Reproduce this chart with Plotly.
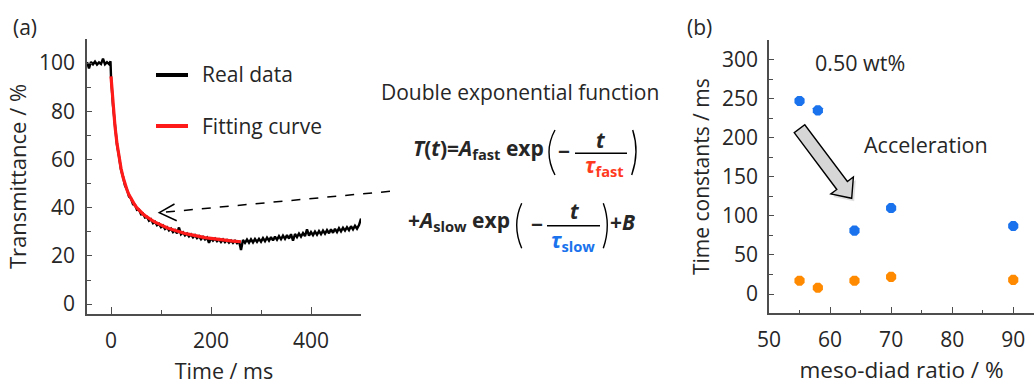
import plotly.graph_objects as go

W, H = 1034, 385
FONT = "Open Sans"
TXT = "#262626"
AX = "#4d4d4d"

# ---------------- data: panel (a) ----------------
t_pre = [-48, -44, -40, -36, -32, -28, -24, -20, -16, -12, -8, -4, -1]
real_pre = [100.4, 97.8, 100.5, 99.5, 100.6, 99.4, 100.3, 99.6, 101.8, 99.5, 100.4, 99.6, 100.7]

t_main = list(range(0, 504, 4))
real_main = [
    94.5, 82.5, 74.2, 66.1, 61.3, 55.8, 52.9, 49.2, 47.6, 44.6,
    43.9, 41.4, 41.2, 39.1, 39.2, 37.3, 37.6, 35.9, 36.2, 34.6,
    35.2, 33.6, 34.2, 32.7, 33.3, 31.9, 32.6, 31.2, 31.9, 30.6,
    31.3, 29.9, 30.7, 29.4, 31.8, 29.0, 29.8, 28.5, 29.3, 28.1,
    28.9, 27.7, 28.6, 27.4, 28.2, 26.9, 27.9, 26.8, 27.6, 25.4,
    27.4, 26.3, 27.2, 26.1, 26.9, 25.8, 26.8, 25.7, 26.6, 25.5,
    26.4, 25.4, 26.3, 25.3, 26.2, 22.5,
    26.6, 25.4, 26.8, 25.5, 26.9, 25.6, 27.0, 25.8, 27.1, 25.9,
    27.4, 26.1, 27.6, 26.3, 27.8, 26.4, 28.0, 26.7, 28.2, 26.9,
    28.4, 27.1, 28.6, 27.2, 29.0, 26.3, 29.1, 27.8, 29.3, 28.0,
    29.5, 28.2, 31.0, 28.4, 29.9, 28.6, 30.1, 28.8, 30.3, 29.0,
    30.5, 29.2, 30.7, 29.4, 31.0, 29.6, 31.2, 29.9, 31.5, 30.2,
    31.7, 30.5, 31.9, 30.7, 32.3, 31.0, 32.5, 31.3, 32.8, 35.5,
]
assert len(real_main) == len(t_main)

t_fit = list(range(0, 264, 4))
fit_vals = [
    94.5, 82.88, 73.77, 66.60, 60.92, 56.38, 52.73, 49.77, 47.35, 45.34,
    43.66, 42.23, 41.00, 39.93, 38.99, 38.16, 37.41, 36.73, 36.10, 35.53,
    34.99, 34.50, 34.03, 33.59, 33.18, 32.79, 32.41, 32.06, 31.72, 31.40,
    31.10, 30.81, 30.53, 30.27, 30.02, 29.78, 29.55, 29.33, 29.12, 28.92,
    28.73, 28.54, 28.37, 28.20, 28.04, 27.88, 27.74, 27.60, 27.46, 27.33,
    27.21, 27.09, 26.98, 26.87, 26.77, 26.67, 26.58, 26.49, 26.40, 26.32,
    26.24, 26.16, 26.09, 26.02, 25.95, 25.89,
]
assert len(fit_vals) == len(t_fit)

# ---------------- data: panel (b) ----------------
meso = [55, 58, 64, 70, 90]
tau_slow = [247, 235, 81, 110, 87]
tau_fast = [17, 8, 17, 22, 18]

BLUE = "#1a73ec"
ORANGE = "#ff8a00"
RED = "#ff1a1a"
FS = 21


def px(x):
    return x / W


def py(y):
    return 1 - y / H


fig = go.Figure()
fig.add_trace(go.Scatter(x=t_pre + t_main, y=real_pre + real_main, mode="lines",
                         line=dict(color="black", width=2.4), name="Real data",
                         showlegend=False, xaxis="x", yaxis="y"))
fig.add_trace(go.Scatter(x=t_fit, y=fit_vals, mode="lines", line=dict(color=RED, width=3.2),
                         name="Fitting curve", showlegend=False, xaxis="x", yaxis="y"))
fig.add_trace(go.Scatter(x=meso, y=tau_slow, mode="markers",
                         marker=dict(color=BLUE, size=11, symbol="octagon"),
                         name="τslow", showlegend=False, xaxis="x2", yaxis="y2"))
fig.add_trace(go.Scatter(x=meso, y=tau_fast, mode="markers",
                         marker=dict(color=ORANGE, size=11, symbol="octagon"),
                         name="τfast", showlegend=False, xaxis="x2", yaxis="y2"))

axcommon = dict(showline=True, linecolor=AX, linewidth=1.5, ticks="inside", tickcolor=AX,
                tickwidth=1.3, showgrid=False, zeroline=False, automargin=False,
                tickfont=dict(family=FONT, size=FS, color=TXT))

fig.update_layout(
    width=W, height=H, autosize=False,
    margin=dict(l=0, r=0, t=0, b=0),
    paper_bgcolor="white", plot_bgcolor="white",
    font=dict(family=FONT, color=TXT),
    xaxis=dict(domain=[px(87), px(361)], range=[-48, 500], dtick=200, tick0=0, ticklen=7,
               minor=dict(dtick=100, ticklen=4, ticks="inside", tickcolor=AX, tickwidth=1.3),
               ticklabelstandoff=7,
               title=dict(text="Time / ms", font=dict(family=FONT, size=21.5, color=TXT), standoff=16),
               anchor="y", **axcommon),
    yaxis=dict(domain=[py(314), py(39)], range=[-4.1, 110], dtick=20, tick0=0, ticklen=5,
               minor=dict(dtick=10, ticklen=4, ticks="inside", tickcolor=AX, tickwidth=1.3),
               ticklabelstandoff=6,
               title=dict(text="Transmittance / %", font=dict(family=FONT, size=22, color=TXT), standoff=6),
               anchor="x", **axcommon),
    xaxis2=dict(domain=[px(769), 1.0], range=[50, 93.4], dtick=10, tick0=50, ticklen=7,
                minor=dict(dtick=5, ticklen=4, ticks="inside", tickcolor=AX, tickwidth=1.3),
                ticklabelstandoff=7,
                title=dict(text="meso-diad ratio / %", font=dict(family=FONT, size=22.5, color=TXT), standoff=18),
                anchor="y2", **axcommon),
    yaxis2=dict(domain=[py(313.3), py(40)], range=[-24.7, 325], dtick=50, tick0=0, ticklen=5,
                minor=dict(dtick=25, ticklen=4, ticks="inside", tickcolor=AX, tickwidth=1.3),
                ticklabelstandoff=5,
                title=dict(text="Time constants / ms", font=dict(family=FONT, size=21, color=TXT), standoff=7),
                anchor="x2", **axcommon),
)

ann = []


def text(x, y, s, size=FS, color=TXT, xanchor="left", yanchor="middle"):
    ann.append(dict(x=px(x), y=py(y), xref="paper", yref="paper", text=s, showarrow=False,
                    xanchor=xanchor, yanchor=yanchor,
                    font=dict(family=FONT, size=size, color=color)))


# panel labels
text(11, 27, "(a)", size=21)
text(685, 27, "(b)", size=21)
# legend (a)
text(200, 74, "Real data")
text(200, 126, "Fitting curve")
# panel (b) texts
text(813, 62, "0.50 wt%", size=21.5)
text(862, 144, "Acceleration", size=21.5)
# equation
text(379, 92, "Double exponential function", size=21)
EQ = 21
text(546, 149, "<b><i>T</i>(<i>t</i>)=<i>A</i><sub>fast</sub> exp</b>", size=EQ, xanchor="right")
text(563.5, 151, "<b>−</b>", size=EQ, xanchor="center")
text(601, 140, "<b><i>t</i></b>", size=EQ, xanchor="center")
text(604, 166, "<b><i>τ</i><sub>fast</sub></b>", size=EQ, color="#ff3b1f", xanchor="center")
text(512, 221, "<b>+<i>A</i><sub>slow</sub> exp</b>", size=EQ, xanchor="right")
text(536.5, 224, "<b>−</b>", size=EQ, xanchor="center")
text(575, 211, "<b><i>t</i></b>", size=EQ, xanchor="center")
text(573, 241, "<b><i>τ</i><sub>slow</sub></b>", size=EQ, color=BLUE, xanchor="center")
text(608, 222, "<b>+<i>B</i></b>", size=EQ, xanchor="left")

shapes = []


def line(x0, y0, x1, y1, color="black", width=1.5, dash="solid"):
    shapes.append(dict(type="line", xref="paper", yref="paper", x0=px(x0), y0=py(y0),
                       x1=px(x1), y1=py(y1), line=dict(color=color, width=width, dash=dash)))


def path(pts_cmd, color="black", width=1.5, fill=None):
    shapes.append(dict(type="path", xref="paper", yref="paper", path=pts_cmd,
                       line=dict(color=color, width=width),
                       fillcolor=fill if fill else "rgba(0,0,0,0)"))


def P(x, y):
    return f"{px(x):.5f},{py(y):.5f}"


# legend samples
line(156, 75, 188, 75, color="black", width=4)
line(156, 126, 188, 126, color=RED, width=4)
# dashed pointer arrow
line(390, 191.3, 161, 212.5, width=1.5, dash="dash")
path(f"M{P(174.5, 204)} L{P(159.3, 212.7)} L{P(176.7, 220.7)}", width=1.5)
# fraction bars
line(575, 153.3, 627, 153.3, width=1.5)
line(547, 225.7, 600, 225.7, width=1.5)
# parentheses
path(f"M{P(555, 130)} Q{P(543, 152)} {P(555, 175)}", width=1.4)
path(f"M{P(632.7, 130)} Q{P(639.8, 152)} {P(631.7, 175)}", width=1.4)
path(f"M{P(521.7, 203.3)} Q{P(511.7, 225)} {P(521.7, 248.3)}", width=1.4)
path(f"M{P(603.3, 203.3)} Q{P(611.3, 225)} {P(603.3, 248.3)}", width=1.4)

# block arrow (panel b)
tx, ty = 799.5, 128.7
hx, hy = 851.7, 198.3
dx, dy = hx - tx, hy - ty
L = (dx * dx + dy * dy) ** 0.5
ux, uy = dx / L, dy / L
nx, ny = -uy, ux
sw, hw, hl = 6.6, 14.1, 16.0
bx, by = hx - ux * hl, hy - uy * hl
pts = [
    (tx + nx * sw, ty + ny * sw),
    (bx + nx * sw, by + ny * sw),
    (bx + nx * hw, by + ny * hw),
    (hx, hy),
    (bx - nx * hw, by - ny * hw),
    (bx - nx * sw, by - ny * sw),
    (tx - nx * sw, ty - ny * sw),
]
# soft shadow
sh = "M" + " L".join(P(x + 2.5, y + 3) for x, y in pts) + " Z"
shapes.append(dict(type="path", xref="paper", yref="paper", path=sh,
                   line=dict(width=0), fillcolor="rgba(0,0,0,0.12)"))
ap = "M" + " L".join(P(x, y) for x, y in pts) + " Z"
path(ap, color="black", width=1.4, fill="#d6d6d6")

fig.update_layout(annotations=ann, shapes=shapes)
fig.write_html("out.html", config={"displayModeBar": False},
               post_script="document.body.style.margin='0';document.body.style.overflow='hidden';")
